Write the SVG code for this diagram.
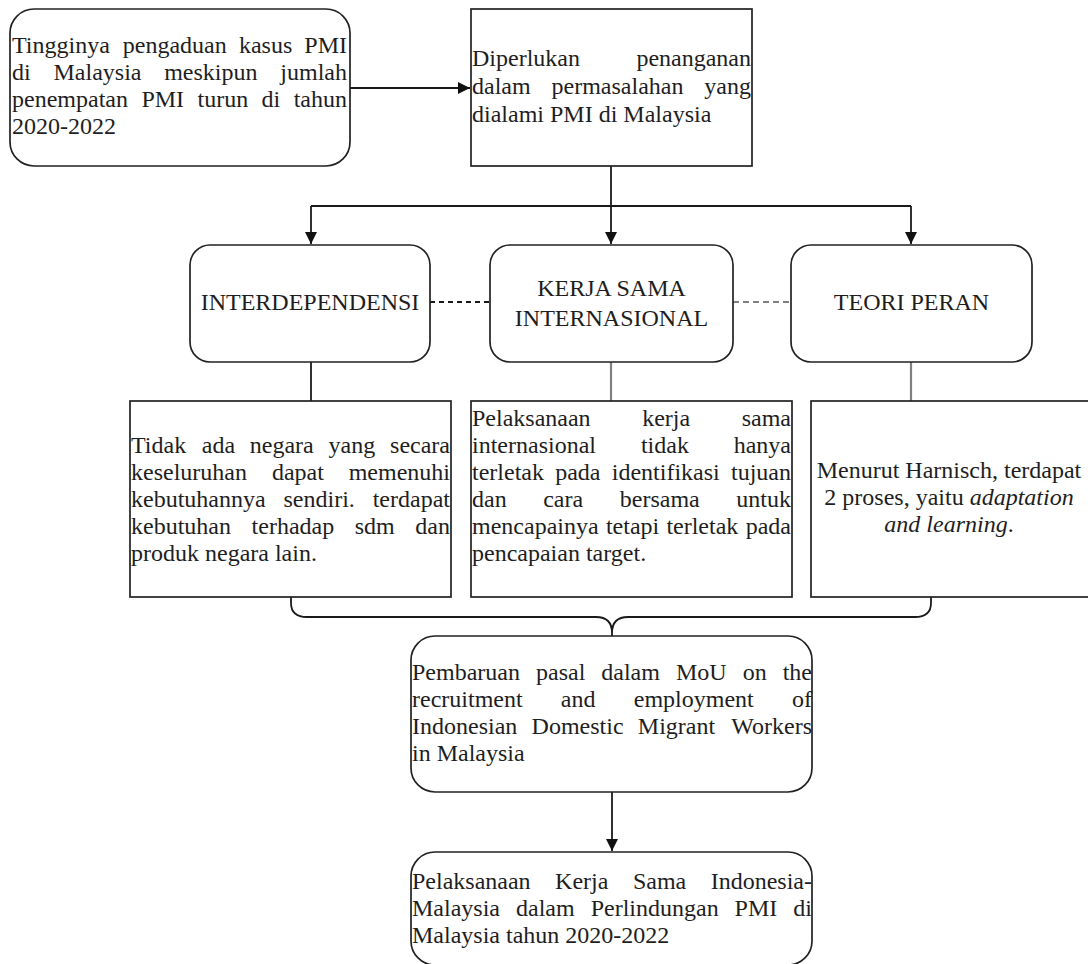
<svg xmlns="http://www.w3.org/2000/svg" width="1088" height="964" viewBox="0 0 1088 964">
<style>
.box{fill:#fff;stroke:#222;stroke-width:1.7}
.t{font-family:"Liberation Serif","Times New Roman",serif;font-size:24px;fill:#1e1e1e}
.c{text-anchor:middle}
.e{text-anchor:end}
.i{font-style:italic}
.ln{fill:none;stroke:#1a1a1a;stroke-width:1.8}
.gr{fill:none;stroke:#808080;stroke-width:2.2}
</style>
<defs>
<marker id="ah" markerUnits="userSpaceOnUse" markerWidth="12" markerHeight="12" refX="12" refY="6" orient="auto" viewBox="0 0 12 12">
<path d="M0,0 L12,6 L0,12 z" fill="#111"/>
</marker>
</defs>
<rect width="1088" height="964" fill="#fff"/>

<g id="connectors">
<path class="ln" d="M350,88 L470,88" marker-end="url(#ah)"/>
<path class="ln" d="M611,166 L611,244" marker-end="url(#ah)"/>
<path class="ln" d="M311,206 L911,206"/>
<path class="ln" d="M311,206 L311,244" marker-end="url(#ah)"/>
<path class="ln" d="M911,206 L911,244" marker-end="url(#ah)"/>
<path class="ln" d="M430,302 L490,302" stroke-dasharray="5,4" stroke-width="1.5"/>
<path class="gr" d="M733,302 L791,302" stroke-dasharray="6,4" stroke="#666"/>
<path class="ln" d="M311,362 L311,401"/>
<path class="gr" d="M611,362 L611,401"/>
<path class="gr" d="M911,362 L911,401"/>
<path class="ln" d="M291,597 L291,603 Q291,617 307,617 L596,617 Q612,617 612,633 L612,636 M612,633 Q612,617 628,617 L915,617 Q931,617 931,603 L931,597"/>
<path class="ln" d="M612,792 L612,851" marker-end="url(#ah)"/>
</g>

<g id="n1">
<rect class="box" x="10" y="9" width="340" height="157" rx="24" ry="24"/>
<text class="t" y="53"><tspan x="12">Tingginya</tspan><tspan x="122.8">pengaduan</tspan><tspan x="238.9">kasus</tspan><tspan x="347" class="e">PMI</tspan></text>
<text class="t" y="80"><tspan x="12">di</tspan><tspan x="53.5">Malaysia</tspan><tspan x="164.2">meskipun</tspan><tspan x="347" class="e">jumlah</tspan></text>
<text class="t" y="107"><tspan x="12">penempatan</tspan><tspan x="141.4">PMI</tspan><tspan x="197.5">turun</tspan><tspan x="261.6">di</tspan><tspan x="347" class="e">tahun</tspan></text>
<text class="t" x="12" y="134">2020-2022</text>
</g>

<g id="n2">
<rect class="box" x="471" y="9" width="281" height="157"/>
<text class="t" y="66"><tspan x="472">Diperlukan</tspan><tspan x="751" class="e">penanganan</tspan></text>
<text class="t" y="94"><tspan x="472">dalam</tspan><tspan x="551.5">permasalahan</tspan><tspan x="751" class="e">yang</tspan></text>
<text class="t" x="472" y="122">dialami PMI di Malaysia</text>
</g>

<g id="n3">
<rect class="box" x="190" y="245" width="240" height="117" rx="20" ry="20"/>
<text class="t c" x="310" y="310">INTERDEPENDENSI</text>
</g>

<g id="n4">
<rect class="box" x="490" y="245" width="243" height="117" rx="20" ry="20"/>
<text class="t c" x="611.5" y="296">KERJA SAMA</text>
<text class="t c" x="611.5" y="326">INTERNASIONAL</text>
</g>

<g id="n5">
<rect class="box" x="791" y="245" width="241" height="117" rx="20" ry="20"/>
<text class="t c" x="911.5" y="310">TEORI PERAN</text>
</g>

<g id="n6">
<rect class="box" x="130" y="401" width="321" height="196"/>
<text class="t" y="453"><tspan x="131">Tidak</tspan><tspan x="201.8">ada</tspan><tspan x="249.8">negara</tspan><tspan x="328.6">yang</tspan><tspan x="450" class="e">secara</tspan></text>
<text class="t" y="480"><tspan x="131">keseluruhan</tspan><tspan x="271.9">dapat</tspan><tspan x="450" class="e">memenuhi</tspan></text>
<text class="t" y="507"><tspan x="131">kebutuhannya</tspan><tspan x="283.5">sendiri.</tspan><tspan x="450" class="e">terdapat</tspan></text>
<text class="t" y="534"><tspan x="131">kebutuhan</tspan><tspan x="251.6">terhadap</tspan><tspan x="354.7">sdm</tspan><tspan x="450" class="e">dan</tspan></text>
<text class="t" x="131" y="561">produk negara lain.</text>
</g>

<g id="n7">
<rect class="box" x="471" y="401" width="321" height="196"/>
<text class="t" y="426"><tspan x="472">Pelaksanaan</tspan><tspan x="642.2">kerja</tspan><tspan x="791" class="e">sama</tspan></text>
<text class="t" y="453"><tspan x="472">internasional</tspan><tspan x="640.9">tidak</tspan><tspan x="791" class="e">hanya</tspan></text>
<text class="t" y="480"><tspan x="472">terletak</tspan><tspan x="555.2">pada</tspan><tspan x="611.8">identifikasi</tspan><tspan x="791" class="e">tujuan</tspan></text>
<text class="t" y="507"><tspan x="472">dan</tspan><tspan x="543.2">cara</tspan><tspan x="619.8">bersama</tspan><tspan x="791" class="e">untuk</tspan></text>
<text class="t" y="534"><tspan x="472">mencapainya</tspan><tspan x="605.9">tetapi</tspan><tspan x="666.4">terletak</tspan><tspan x="791" class="e">pada</tspan></text>
<text class="t" x="472" y="561">pencapaian target.</text>
</g>

<g id="n8">
<rect class="box" x="811" y="401" width="280" height="196"/>
<text class="t c" x="949" y="478">Menurut Harnisch, terdapat</text>
<text class="t c" x="949" y="505">2 proses, yaitu <tspan class="i">adaptation</tspan></text>
<text class="t c" x="949" y="532"><tspan class="i">and learning</tspan>.</text>
</g>

<g id="n9">
<rect class="box" x="411" y="636" width="401" height="156" rx="24" ry="24"/>
<text class="t" y="680"><tspan x="412">Pembaruan</tspan><tspan x="536">pasal</tspan><tspan x="601.3">dalam</tspan><tspan x="676">MoU</tspan><tspan x="742.7">on</tspan><tspan x="812" class="e">the</tspan></text>
<text class="t" y="707"><tspan x="412">recruitment</tspan><tspan x="560.8">and</tspan><tspan x="633.8">employment</tspan><tspan x="812" class="e">of</tspan></text>
<text class="t" y="734"><tspan x="412">Indonesian</tspan><tspan x="531.6">Domestic</tspan><tspan x="637.8">Migrant</tspan><tspan x="812" class="e">Workers</tspan></text>
<text class="t" x="412" y="761">in Malaysia</text>
</g>

<g id="n10">
<rect class="box" x="411" y="852" width="401" height="113" rx="24" ry="24"/>
<text class="t" y="889"><tspan x="412">Pelaksanaan</tspan><tspan x="555.1">Kerja</tspan><tspan x="632.9">Sama</tspan><tspan x="812" class="e">Indonesia-</tspan></text>
<text class="t" y="916"><tspan x="412">Malaysia</tspan><tspan x="516">dalam</tspan><tspan x="590.7">Perlindungan</tspan><tspan x="734.6">PMI</tspan><tspan x="812" class="e">di</tspan></text>
<text class="t" x="412" y="943">Malaysia tahun 2020-2022</text>
</g>
</svg>
